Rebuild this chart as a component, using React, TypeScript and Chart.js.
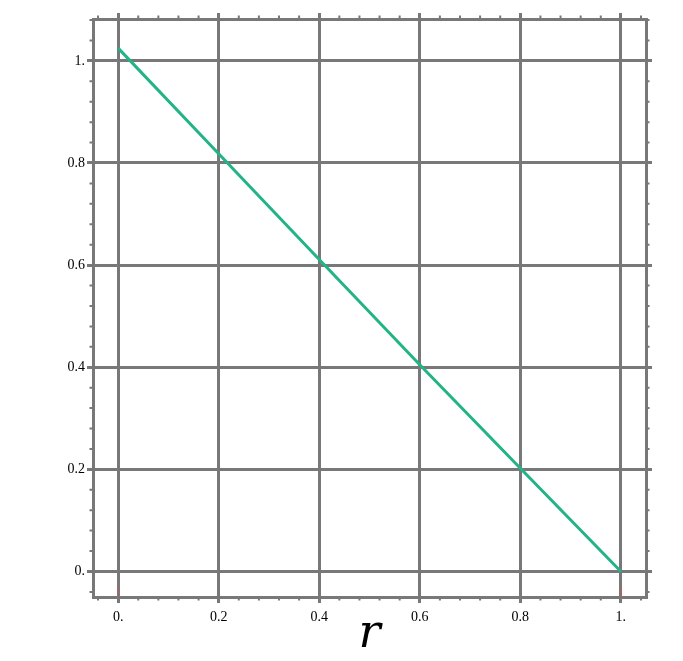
import React, { useEffect, useRef } from "react";
import { Chart, registerables } from "chart.js";

Chart.register(...registerables);

const xValues = [0, 0.2, 0.4, 0.6, 0.8, 1];
const yValues = [1.025, 0.818, 0.611, 0.405, 0.202, 0];
const xTicks = [0, 0.2, 0.4, 0.6, 0.8, 1];
const xTickLabels = ["0.", "0.2", "0.4", "0.6", "0.8", "1."];
const yTicks = [0, 0.2, 0.4, 0.6, 0.8, 1];
const yTickLabels = ["0.", "0.2", "0.4", "0.6", "0.8", "1."];
const redMarks = [0, 1];

const GRID = "#787878";
const LINE = "#22b386";
const FONT = "'Liberation Serif', 'Times New Roman', serif";
const TITLE_FONT = "'DejaVu Serif', 'Liberation Serif', serif";

const minorPlugin = {
  id: "minorTicks",
  afterDraw(chart: any) {
    const { ctx, chartArea } = chart;
    const xs = chart.scales.x;
    const ys = chart.scales.y;
    ctx.save();
    ctx.strokeStyle = GRID;
    ctx.lineWidth = 2;
    const isMajor = (v: number) => Math.abs(v * 5 - Math.round(v * 5)) < 1e-6;
    for (let i = -1; i <= 26; i++) {
      const v = i * 0.04;
      if (isMajor(v)) continue;
      if (v < xs.min || v > xs.max) continue;
      const px = xs.getPixelForValue(v);
      ctx.beginPath();
      ctx.moveTo(px, chartArea.top - 1);
      ctx.lineTo(px, chartArea.top - 3.5);
      ctx.moveTo(px, chartArea.bottom + 1);
      ctx.lineTo(px, chartArea.bottom + 3.5);
      ctx.stroke();
    }
    for (let i = -1; i <= 27; i++) {
      const v = i * 0.04;
      if (isMajor(v)) continue;
      if (v < ys.min || v > ys.max) continue;
      const py = ys.getPixelForValue(v);
      ctx.beginPath();
      ctx.moveTo(chartArea.left - 1, py);
      ctx.lineTo(chartArea.left - 3.5, py);
      ctx.moveTo(chartArea.right + 1, py);
      ctx.lineTo(chartArea.right + 3.5, py);
      ctx.stroke();
    }
    ctx.strokeStyle = "rgba(210,80,80,0.8)";
    ctx.lineWidth = 1;
    for (const v of redMarks) {
      const px = xs.getPixelForValue(v);
      ctx.beginPath();
      ctx.moveTo(px, chartArea.bottom - 1);
      ctx.lineTo(px, chartArea.bottom - 10);
      ctx.stroke();
    }
    ctx.restore();
  },
};

export default function App() {
  const ref = useRef<HTMLCanvasElement | null>(null);
  useEffect(() => {
    if (!ref.current) return;
    const gridOpts = {
      color: GRID,
      lineWidth: 3,
      tickLength: 6,
      drawTicks: true,
    };
    const borderOpts = { display: true, color: GRID, width: 3 };
    const chart = new Chart(ref.current, {
      type: "line",
      data: {
        datasets: [
          {
            data: xValues.map((x, i) => ({ x, y: yValues[i] })),
            borderColor: LINE,
            borderWidth: 3,
            pointRadius: 0,
            fill: false,
            tension: 0,
          },
        ],
      },
      plugins: [minorPlugin],
      options: {
        animation: false,
        responsive: true,
        maintainAspectRatio: false,
        layout: { padding: 0 },
        plugins: { legend: { display: false }, tooltip: { enabled: false } },
        scales: {
          x: {
            type: "linear",
            position: "bottom",
            min: -0.05,
            max: 1.05,
            afterBuildTicks: (s: any) => {
              s.ticks = xTicks.map((v) => ({ value: v }));
            },
            afterFit: (s: any) => {
              s.height = 64;
            },
            ticks: {
              padding: 6,
              color: "#000",
              font: { family: FONT, size: 14 },
              callback: (v: any) => {
                const i = xTicks.findIndex((t) => Math.abs(t - v) < 1e-9);
                return i >= 0 ? xTickLabels[i] : "";
              },
              maxRotation: 0,
            },
            grid: gridOpts,
            border: borderOpts,
            title: {
              display: true,
              text: "r",
              color: "#000",
              font: { family: TITLE_FONT, size: 46, style: "italic", lineHeight: 1.2 },
              padding: { top: 0, bottom: -2 },
            },
          },
          x2: {
            type: "linear",
            position: "top",
            min: -0.05,
            max: 1.05,
            afterBuildTicks: (s: any) => {
              s.ticks = xTicks.map((v) => ({ value: v }));
            },
            afterFit: (s: any) => {
              s.height = 19;
            },
            ticks: { display: false },
            grid: { ...gridOpts, drawOnChartArea: false },
            border: borderOpts,
          },
          y: {
            type: "linear",
            position: "left",
            min: -0.05,
            max: 1.082,
            afterBuildTicks: (s: any) => {
              s.ticks = yTicks.map((v) => ({ value: v }));
            },
            afterFit: (s: any) => {
              s.width = 93;
            },
            ticks: {
              padding: 2,
              color: "#000",
              font: { family: FONT, size: 14 },
              callback: (v: any) => {
                const i = yTicks.findIndex((t) => Math.abs(t - v) < 1e-9);
                return i >= 0 ? yTickLabels[i] : "";
              },
            },
            grid: gridOpts,
            border: borderOpts,
          },
          y2: {
            type: "linear",
            position: "right",
            min: -0.05,
            max: 1.082,
            afterBuildTicks: (s: any) => {
              s.ticks = yTicks.map((v) => ({ value: v }));
            },
            afterFit: (s: any) => {
              s.width = 37;
            },
            ticks: { display: false },
            grid: { ...gridOpts, drawOnChartArea: false },
            border: borderOpts,
          },
        },
      } as any,
    });
    return () => chart.destroy();
  }, []);
  return (
    <div
      style={{
        position: "fixed",
        left: 0,
        top: 0,
        width: 683,
        height: 661,
        background: "#fff",
      }}
    >
      <canvas ref={ref} />
    </div>
  );
}
